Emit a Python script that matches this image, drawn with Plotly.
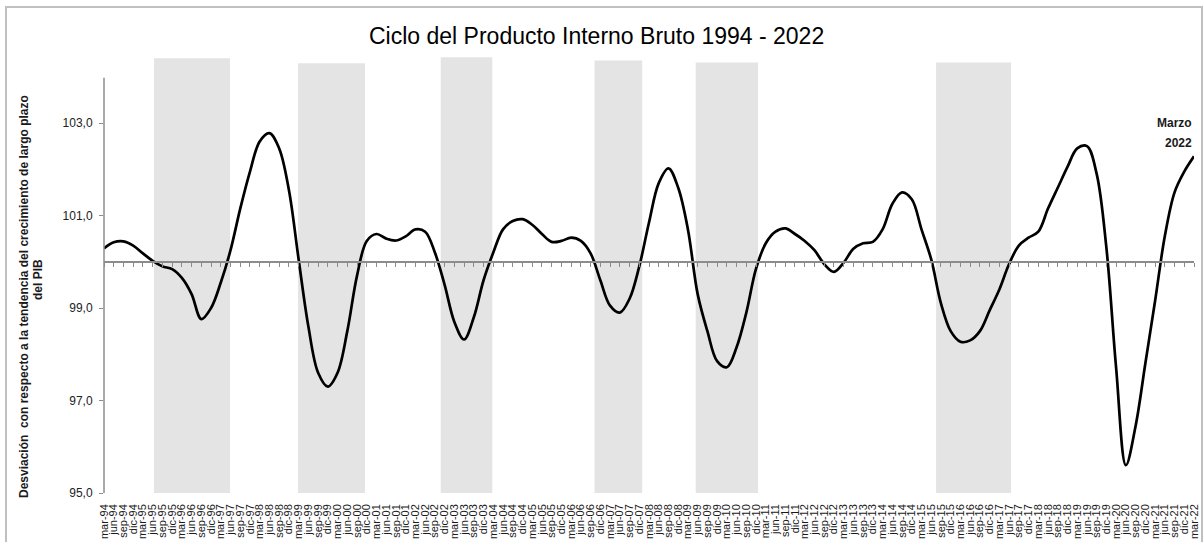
import plotly.graph_objects as go

# ---------------- data ----------------
months = ["mar", "jun", "sep", "dic"]
years = list(range(1994, 2023))
quarter_labels = [f"{m}-{str(y)[2:]}" for y in years for m in months][:113]  # mar-94 ... mar-22

ciclo_pib = [
    100.29, 100.42, 100.44, 100.35, 100.18, 100.02, 99.90, 99.84, 99.65, 99.30,
    98.76, 99.00, 99.55, 100.25, 101.15, 101.95, 102.60, 102.78, 102.45, 101.55,
    100.05, 98.60, 97.60, 97.30, 97.60, 98.50, 99.70, 100.45, 100.60, 100.50,
    100.46, 100.55, 100.70, 100.65, 100.20, 99.50, 98.70, 98.32, 98.80, 99.60,
    100.20, 100.70, 100.88, 100.92, 100.80, 100.60, 100.43, 100.45, 100.52, 100.45,
    100.18, 99.60, 99.05, 98.90, 99.20, 99.90, 100.85, 101.70, 102.02, 101.60,
    100.70, 99.30, 98.50, 97.85, 97.72, 98.15, 98.90, 99.85, 100.40, 100.65,
    100.72, 100.60, 100.45, 100.25, 99.95, 99.78, 99.98, 100.28, 100.40, 100.43,
    100.70, 101.25, 101.50, 101.35, 100.70, 100.05, 99.10, 98.50, 98.27, 98.30,
    98.50, 98.95, 99.40, 99.95, 100.35, 100.52, 100.65, 101.15, 101.60, 102.05,
    102.45, 102.50, 101.90, 100.30, 97.70, 95.60, 96.45, 97.80, 99.15, 100.55,
    101.50, 101.95, 102.28,
]

# shaded periods (start, end in quarter index units) and their top values
shade_start = [5.14, 19.94, 34.6, 50.4, 60.8, 85.5]
shade_end = [12.95, 26.82, 39.9, 55.3, 67.2, 93.2]
shade_top = [104.40, 104.29, 104.42, 104.35, 104.31, 104.31]

y_tick_vals = [95, 97, 99, 101, 103]
y_tick_labels = ["95,0", "97,0", "99,0", "101,0", "103,0"]
baseline = 100

title_text = "Ciclo del Producto Interno Bruto 1994 - 2022"
ytitle_1 = "Desviación  con respecto a la tendencia del crecimiento de largo plazo"
ytitle_2 = "del PIB"

# ---------------- layout geometry ----------------
W, H = 1204, 542
L, R, T, B = 104, 1194, 55, 493
Y0, Y1 = 95.0, 95.0 + (B - T) / 46.25


def px(xp):
    return (xp - L) / (R - L)


def py(yp):
    return (B - yp) / (B - T)


idx = list(range(len(ciclo_pib)))
FONT = "Arial, Liberation Sans, sans-serif"

fig = go.Figure()
fig.add_trace(go.Scatter(
    x=idx, y=ciclo_pib, mode="lines",
    line=dict(color="black", width=2.7, shape="spline", smoothing=1.0),
    hoverinfo="skip", showlegend=False,
))
# invisible trace so the baseline axis is drawn
fig.add_trace(go.Scatter(x=[0], y=[baseline], xaxis="x2", mode="none",
                         hoverinfo="skip", showlegend=False))

shapes = []
for s, e, t in zip(shade_start, shade_end, shade_top):
    shapes.append(dict(type="rect", xref="x", yref="y", x0=s, x1=e, y0=Y0, y1=t,
                       fillcolor="#e4e4e4", line=dict(width=0), layer="below"))
# y-axis line
shapes.append(dict(type="line", xref="paper", yref="y", x0=0, x1=0, y0=Y0, y1=103.98,
                   line=dict(color="#8c8c8c", width=1.5)))
# outer frame
shapes.append(dict(type="rect", xref="paper", yref="paper",
                   x0=px(6), x1=px(1202), y0=py(580), y1=py(7),
                   line=dict(color="#c0c0c0", width=2), fillcolor="rgba(0,0,0,0)"))

annotations = [
    dict(text=title_text, xref="paper", yref="paper", x=px(596.5), y=py(36),
         xanchor="center", yanchor="middle", showarrow=False,
         font=dict(family=FONT, size=23, color="black")),
    dict(text=f"<b>{ytitle_1}</b>", xref="paper", yref="paper", x=px(24), y=py(297),
         xanchor="center", yanchor="middle", textangle=-90, showarrow=False,
         font=dict(family=FONT, size=12, color="#1a1a1a")),
    dict(text=f"<b>{ytitle_2}</b>", xref="paper", yref="paper", x=px(38), y=py(280),
         xanchor="center", yanchor="middle", textangle=-90, showarrow=False,
         font=dict(family=FONT, size=12, color="#1a1a1a")),
    dict(text="<b>Marzo</b>", xref="paper", yref="paper", x=px(1194), y=py(123),
         xanchor="right", yanchor="middle", showarrow=False,
         font=dict(family=FONT, size=12, color="#1a1a1a")),
    dict(text="<b>2022</b>", xref="paper", yref="paper", x=px(1194), y=py(143),
         xanchor="right", yanchor="middle", showarrow=False,
         font=dict(family=FONT, size=12, color="#1a1a1a")),
]

fig.update_layout(
    template="none",
    width=W, height=H,
    margin=dict(l=L, r=W - R, t=T, b=H - B, pad=0, autoexpand=False),
    paper_bgcolor="white", plot_bgcolor="white",
    font=dict(family=FONT, color="#1a1a1a"),
    shapes=shapes, annotations=annotations, showlegend=False,
    xaxis=dict(range=[0, len(idx) - 1], tickmode="array", tickvals=idx, ticktext=quarter_labels,
               tickangle=-90, tickfont=dict(family=FONT, size=11, color="#1a1a1a"),
               ticks="", showgrid=False, zeroline=False, showline=False,
               ticklabelstandoff=8, automargin=False, fixedrange=True),
    xaxis2=dict(range=[0, len(idx) - 1], overlaying="x", anchor="free",
                position=(baseline - Y0) / (Y1 - Y0), side="bottom",
                tickmode="array", tickvals=idx, showticklabels=False,
                ticks="outside", ticklen=4, tickcolor="#8c8c8c", tickwidth=1,
                showline=True, linecolor="#8c8c8c", linewidth=1.5,
                showgrid=False, zeroline=False, automargin=False),
    yaxis=dict(range=[Y0, Y1], tickmode="array", tickvals=y_tick_vals, ticktext=y_tick_labels,
               ticks="outside", ticklen=4, tickcolor="#8c8c8c", tickwidth=1,
               tickfont=dict(family=FONT, size=12, color="#222222"),
               showgrid=False, zeroline=False, showline=False, ticklabelstandoff=4,
               automargin=False),
)

post = ("document.body.style.margin='0';document.body.style.padding='0';"
        "document.documentElement.style.overflow='hidden';document.body.style.overflow='hidden';")
fig.write_html("out.html", post_script=post, config={"displayModeBar": False})
